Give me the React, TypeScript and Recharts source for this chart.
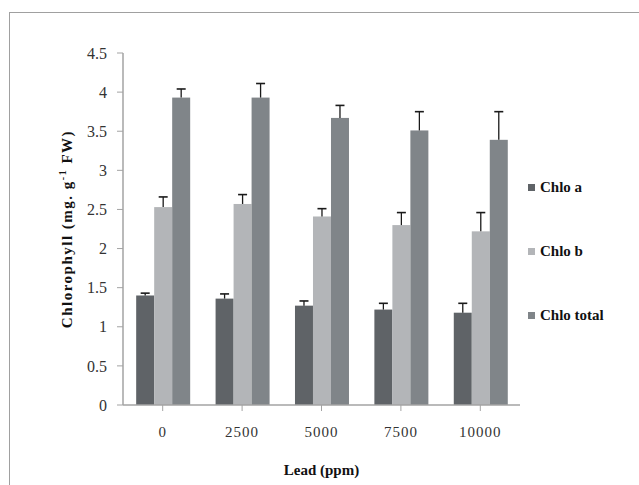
import { BarChart, Bar, XAxis, YAxis, Legend, Label } from 'recharts'

const categories = ['0', '2500', '5000', '7500', '10000']
const chloA = [1.4, 1.36, 1.27, 1.22, 1.18]
const chloAErr = [0.03, 0.06, 0.06, 0.08, 0.12]
const chloB = [2.53, 2.57, 2.41, 2.3, 2.22]
const chloBErr = [0.13, 0.12, 0.1, 0.16, 0.24]
const chloTotal = [3.93, 3.93, 3.67, 3.51, 3.39]
const chloTotalErr = [0.11, 0.18, 0.16, 0.24, 0.36]
const yTicks = [0, 0.5, 1, 1.5, 2, 2.5, 3, 3.5, 4, 4.5]

const COLORS = {
  a: '#5f6367',
  b: '#b3b5b8',
  total: '#808589',
}

const data = categories.map((lead, i) => ({
  lead,
  a: chloA[i],
  aErr: chloAErr[i],
  b: chloB[i],
  bErr: chloBErr[i],
  total: chloTotal[i],
  totalErr: chloTotalErr[i],
}))

const SERIF = 'Liberation Serif'
const AXIS_GRAY = '#a3a3a3'

// bar rect + one-sided (upper) error bar, scaled from the bar's own height
function BarWithError(props: any) {
  const { x, y, width, height, fill, payload, valueKey, errKey } = props
  const val = payload[valueKey]
  const err = payload[errKey]
  const pxPerUnit = val ? height / val : 0
  const cx = x + width / 2
  const top = y - err * pxPerUnit
  return (
    <g>
      <rect x={x} y={y} width={width} height={height} fill={fill} />
      <line x1={cx} y1={y} x2={cx} y2={top} stroke="#1a1a1a" strokeWidth={1.3} />
      <line x1={cx - 4.5} y1={top} x2={cx + 4.5} y2={top} stroke="#1a1a1a" strokeWidth={1.6} />
    </g>
  )
}

function renderLegend(props: any) {
  const { payload } = props
  return (
    <div>
      {(payload ?? []).map((entry: any) => (
        <div
          key={entry.value}
          style={{
            display: 'flex',
            alignItems: 'center',
            height: 18,
            marginBottom: 46,
            fontFamily: SERIF,
            fontWeight: 'bold',
            fontSize: 15,
            color: '#111',
          }}
        >
          <span
            style={{
              display: 'inline-block',
              width: 7,
              height: 7,
              background: entry.color,
              marginRight: 5,
            }}
          />
          {entry.value}
        </div>
      ))}
    </div>
  )
}

function YTitle(props: any) {
  const { viewBox } = props
  const cy = viewBox.y + viewBox.height / 2
  const cx = 67
  return (
    <text
      x={cx}
      y={cy}
      transform={`rotate(-90, ${cx}, ${cy})`}
      textAnchor="middle"
      dominantBaseline="central"
      style={{ fontFamily: SERIF }}
      fontWeight="bold"
      fontSize={15}
      letterSpacing={1.5}
      fill="#111"
    >
      Chlorophyll (mg. g
      <tspan dy={-5} fontSize={10}>
        -1
      </tspan>
      <tspan dy={5}> FW)</tspan>
    </text>
  )
}

export default function App() {
  return (
    <div
      style={{
        position: 'absolute',
        left: 0,
        top: 0,
        width: 639,
        height: 485,
        background: '#fff',
        fontFamily: SERIF,
      }}
    >
      <div
        style={{
          position: 'absolute',
          left: 9,
          top: 12,
          right: 0,
          bottom: 0,
          borderLeft: '1.5px solid #a0a0a0',
          borderTop: '1.5px solid #a0a0a0',
        }}
      />
      <BarChart
        width={639}
        height={485}
        data={data}
        margin={{ top: 53, right: 119, left: 0, bottom: 0 }}
        barCategoryGap="16.6%"
        barGap={0}
        style={{ fontFamily: SERIF }}
      >
        <XAxis
          dataKey="lead"
          height={80}
          axisLine={{ stroke: AXIS_GRAY, strokeWidth: 1.5 }}
          tickLine={{ stroke: AXIS_GRAY }}
          tickSize={6}
          tickMargin={15}
          tick={{ style: { fontFamily: SERIF }, fontSize: 15, fill: '#333', letterSpacing: 1 }}
        >
          <Label
            value="Lead (ppm)"
            position="insideBottom"
            offset={10}
            style={{ fontFamily: SERIF, fontWeight: 'bold', fontSize: 15, fill: '#111' }}
          />
        </XAxis>
        <YAxis
          width={123}
          domain={[0, 4.5]}
          ticks={yTicks}
          interval={0}
          axisLine={{ stroke: AXIS_GRAY, strokeWidth: 1.5 }}
          tickLine={{ stroke: AXIS_GRAY }}
          tickSize={6}
          tickMargin={10}
          tick={{ style: { fontFamily: SERIF }, fontSize: 16, fill: '#333' }}
        >
          <Label content={<YTitle />} />
        </YAxis>
        <Legend
          layout="vertical"
          verticalAlign="middle"
          align="center"
          content={renderLegend}
          wrapperStyle={{ top: 178, left: 528, right: 'auto', bottom: 'auto', width: 110 }}
        />
        <Bar
          dataKey="a"
          name="Chlo a"
          fill={COLORS.a}
          isAnimationActive={false}
          shape={(p: any) => <BarWithError {...p} valueKey="a" errKey="aErr" />}
        />
        <Bar
          dataKey="b"
          name="Chlo b"
          fill={COLORS.b}
          isAnimationActive={false}
          shape={(p: any) => <BarWithError {...p} valueKey="b" errKey="bErr" />}
        />
        <Bar
          dataKey="total"
          name="Chlo total"
          fill={COLORS.total}
          isAnimationActive={false}
          shape={(p: any) => <BarWithError {...p} valueKey="total" errKey="totalErr" />}
        />
      </BarChart>
    </div>
  )
}
